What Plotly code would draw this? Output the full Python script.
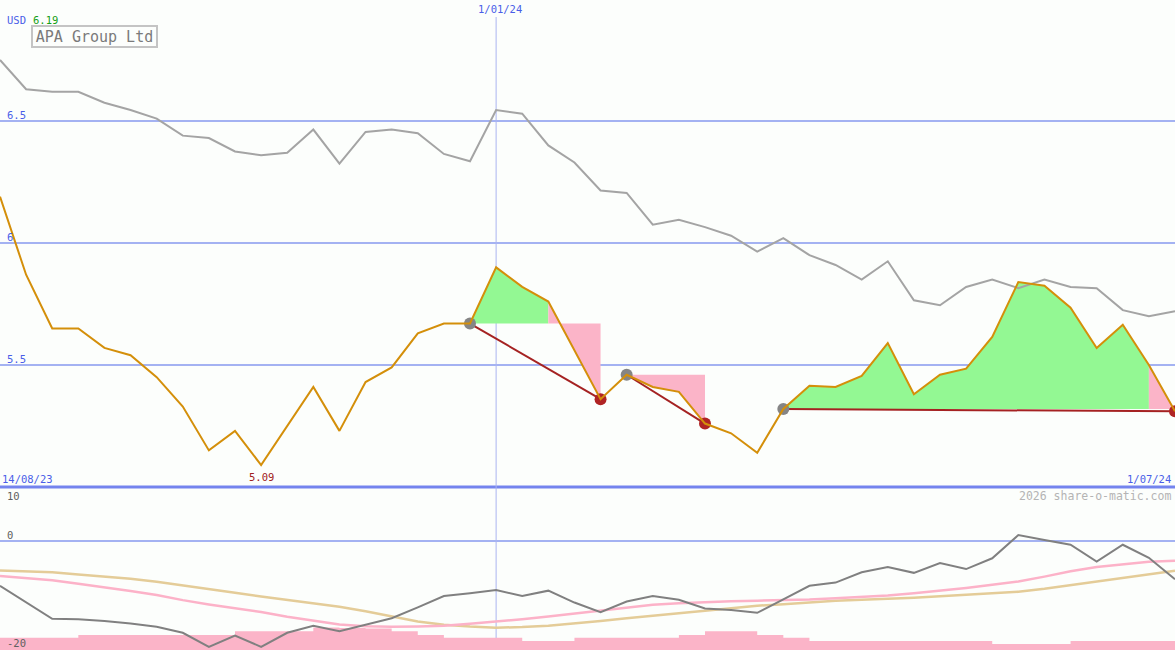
import plotly.graph_objects as go
from datetime import date

W, H = 1175, 650
MAIN_H = 487  # pixel height of the price panel

# ---------------- data ----------------
dates = ["2023-08-14", "2023-08-21", "2023-08-28", "2023-09-04", "2023-09-11", "2023-09-18",
         "2023-09-25", "2023-10-02", "2023-10-09", "2023-10-16", "2023-10-23", "2023-10-30",
         "2023-11-06", "2023-11-13", "2023-11-20", "2023-11-27", "2023-12-04", "2023-12-11",
         "2023-12-18", "2024-01-01", "2024-01-08", "2024-01-15", "2024-01-22", "2024-01-29",
         "2024-02-05", "2024-02-12", "2024-02-19", "2024-02-26", "2024-03-04", "2024-03-11",
         "2024-03-18", "2024-03-25", "2024-04-01", "2024-04-08", "2024-04-15", "2024-04-22",
         "2024-04-29", "2024-05-06", "2024-05-13", "2024-05-20", "2024-05-27", "2024-06-03",
         "2024-06-10", "2024-06-17", "2024-06-24", "2024-07-01"]

price = [6.19, 5.87, 5.65, 5.65, 5.57, 5.54, 5.45, 5.33, 5.15, 5.23,
         5.09, 5.25, 5.41, 5.23, 5.43, 5.49, 5.63, 5.67, 5.67, 5.90,
         5.82, 5.76, 5.56, 5.36, 5.46, 5.41, 5.39, 5.26, 5.22, 5.14,
         5.32, 5.415, 5.41, 5.455, 5.59, 5.38, 5.46, 5.485, 5.615, 5.84,
         5.825, 5.735, 5.57, 5.665, 5.50, 5.31]

compare = [6.75, 6.63, 6.62, 6.62, 6.575, 6.545, 6.51, 6.44, 6.43, 6.375,
           6.36, 6.37, 6.465, 6.325, 6.455, 6.465, 6.45, 6.365, 6.335, 6.545,
           6.53, 6.40, 6.33, 6.215, 6.205, 6.075, 6.095, 6.065, 6.03, 5.965,
           6.02, 5.95, 5.91, 5.85, 5.925, 5.765, 5.745, 5.82, 5.85, 5.815,
           5.85, 5.82, 5.815, 5.725, 5.70, 5.72]

osc = [-8.3, -11.3, -14.4, -14.5, -14.8, -15.3, -15.9, -17.0, -19.6, -17.5,
       -19.6, -17.0, -15.7, -16.7, -15.5, -14.3, -12.3, -10.2, -9.7, -9.1,
       -10.2, -9.2, -11.4, -13.2, -11.2, -10.2, -10.9, -12.5, -12.8, -13.3,
       -10.8, -8.3, -7.7, -5.8, -4.8, -5.9, -4.1, -5.2, -3.2, 1.1,
       0.2, -0.7, -3.8, -0.7, -3.1, -7.1]

osc_fast = [-6.5, -6.85, -7.25, -7.9, -8.55, -9.25, -10.0, -10.95, -11.75, -12.4,
            -13.15, -14.05, -14.8, -15.45, -15.8, -15.9, -15.85, -15.7, -15.35, -14.95,
            -14.5, -14.0, -13.45, -12.9, -12.35, -11.8, -11.55, -11.3, -11.15, -11.05,
            -10.95, -10.85, -10.6, -10.4, -10.1, -9.7, -9.25, -8.7, -8.1, -7.5,
            -6.6, -5.6, -4.8, -4.3, -3.85, -3.65]

osc_slow = [-5.45, -5.6, -5.8, -6.2, -6.55, -7.0, -7.55, -8.2, -8.95, -9.6,
            -10.3, -10.95, -11.55, -12.2, -13.0, -14.0, -14.9, -15.5, -15.85, -16.05,
            -15.95, -15.7, -15.3, -14.8, -14.3, -13.85, -13.35, -12.85, -12.4, -12.0,
            -11.7, -11.4, -11.05, -10.9, -10.75, -10.5, -10.25, -10.0, -9.7, -9.4,
            -8.85, -8.2, -7.55, -6.9, -6.15, -5.5]

hist = [-17.9, -17.9, -17.9, -17.4, -17.4, -17.4, -17.4, -17.4, -17.4, -16.7,
        -16.7, -16.7, -16.0, -16.1, -16.2, -16.7, -17.4, -17.9, -17.9, -17.9,
        -18.5, -18.5, -17.9, -17.9, -17.9, -17.9, -17.4, -16.7, -16.7, -17.4,
        -17.9, -18.5, -18.5, -18.5, -18.5, -18.5, -18.5, -18.5, -19.1, -19.1,
        -19.1, -18.5, -18.5, -18.5, -18.5, -18.5]

# trades: (entry index, index where shading turns pink, exit index)
trades = [(18, 21, 23), (24, 24, 27), (30, 44, 45)]

grid_levels = [5.5, 6.0, 6.5]
grid_labels = ["5.5", "6", "6.5"]
osc_labels = [(10, "10"), (0, "0"), (-20, "-20")]
title = "APA Group Ltd"
currency = "USD"

# ---------------- figure ----------------
idx = list(range(len(price)))
MAIN_LO = 5.0
MAIN_HI = 5.0 + MAIN_H / 244.0
OSC_LO, OSC_HI = -20.19, 10.0
split = 1 - MAIN_H / H

GREEN = "#93f893"
PINK = "#fbb4c8"
ORANGE = "#d48f0a"
FONT = "DejaVu Sans Mono"


def fmt(d):
    dt = date.fromisoformat(d)
    return f"{dt.day}/{dt.month:02d}/{dt.year % 100:02d}"


fig = go.Figure()

# trade shading
for a, s, b in trades:
    lvl = price[a]
    if s > a:
        xs = idx[a:s + 1] + [s, a]
        ys = price[a:s + 1] + [lvl, lvl]
        fig.add_trace(go.Scatter(x=xs, y=ys, fill="toself", fillcolor=GREEN, mode="none",
                                 hoverinfo="skip", showlegend=False))
    xs = idx[s:b + 1] + [b, s]
    ys = price[s:b + 1] + [lvl, lvl]
    fig.add_trace(go.Scatter(x=xs, y=ys, fill="toself", fillcolor=PINK, mode="none",
                             hoverinfo="skip", showlegend=False))

# comparison line
fig.add_trace(go.Scatter(x=idx, y=compare, mode="lines", line=dict(color="#a4a4a4", width=2),
                         hoverinfo="skip", showlegend=False))

# trend lines entry -> exit
for a, s, b in trades:
    fig.add_trace(go.Scatter(x=[a, b], y=[price[a], price[b]], mode="lines",
                             line=dict(color="#a52222", width=2), hoverinfo="skip", showlegend=False))

# entry / exit markers
fig.add_trace(go.Scatter(x=[t[0] for t in trades], y=[price[t[0]] for t in trades], mode="markers",
                         marker=dict(color="#858585", size=12, line=dict(width=0)),
                         hoverinfo="skip", showlegend=False))
fig.add_trace(go.Scatter(x=[t[2] for t in trades], y=[price[t[2]] for t in trades], mode="markers",
                         marker=dict(color="#b02424", size=12, line=dict(width=0)),
                         hoverinfo="skip", showlegend=False))

# price line
fig.add_trace(go.Scatter(x=idx, y=price, mode="lines", line=dict(color=ORANGE, width=2),
                         hoverinfo="skip", showlegend=False))

# lower panel: stepped histogram filled down to the panel bottom
fig.add_trace(go.Scatter(x=idx, y=[OSC_LO] * len(idx), mode="lines", line=dict(width=0),
                         yaxis="y2", hoverinfo="skip", showlegend=False))
fig.add_trace(go.Scatter(x=idx, y=hist, mode="lines", line=dict(width=0, shape="hv"),
                         fill="tonexty", fillcolor=PINK, yaxis="y2",
                         hoverinfo="skip", showlegend=False))
fig.add_trace(go.Scatter(x=idx, y=osc_slow, mode="lines", line=dict(color="#e4cc98", width=2.5),
                         yaxis="y2", hoverinfo="skip", showlegend=False))
fig.add_trace(go.Scatter(x=idx, y=osc_fast, mode="lines", line=dict(color="#fcb2c8", width=2.5),
                         yaxis="y2", hoverinfo="skip", showlegend=False))
fig.add_trace(go.Scatter(x=idx, y=osc, mode="lines", line=dict(color="#808080", width=2),
                         yaxis="y2", hoverinfo="skip", showlegend=False))

shapes = []
for g in grid_levels:
    shapes.append(dict(type="line", xref="paper", yref="y", x0=0, x1=1, y0=g, y1=g,
                       line=dict(color="#a4b2f2", width=2), layer="below"))
shapes.append(dict(type="line", xref="paper", yref="y2", x0=0, x1=1, y0=0, y1=0,
                   line=dict(color="#a4b2f2", width=2), layer="below"))
shapes.append(dict(type="line", xref="paper", yref="paper", x0=0, x1=1, y0=split, y1=split,
                   line=dict(color="#7484ee", width=3), layer="below"))
jan = dates.index("2024-01-01")
shapes.append(dict(type="line", xref="x", yref="paper", x0=jan, x1=jan, y0=0, y1=1 - 17 / H,
                   line=dict(color="#aab4f0", width=1), layer="below"))


def ann(text, px, py, color, size=10.5, xanchor="left", **kw):
    return dict(text=text, x=px / W, y=1 - py / H, xref="paper", yref="paper",
                xanchor=xanchor, yanchor="middle", showarrow=False,
                font=dict(family=FONT, size=size, color=color), **kw)


BLUE = "#4a5ee8"
annotations = [
    ann(currency, 5, 20, BLUE),
    ann(f"{price[0]:.2f}", 31, 20, "#15a015"),
    ann(fmt(dates[jan]), 500, 9, BLUE, xanchor="center"),
    ann(fmt(dates[0]), 0, 479, BLUE),
    ann(fmt(dates[-1]), 1173, 479, BLUE, xanchor="right"),
    ann("2026 share-o-matic.com", 1173, 496, "#b4b4b4", size=11.5, xanchor="right"),
]
for g, lab in zip(grid_levels, grid_labels):
    py = MAIN_H - (g - MAIN_LO) * 244.0
    annotations.append(ann(lab, 5, py - 6, BLUE))
imin = price.index(min(price))
annotations.append(dict(text=f"{min(price):.2f}", x=imin, y=MAIN_LO, xref="x", yref="y",
                        xanchor="center", yanchor="bottom", yshift=2, showarrow=False,
                        font=dict(family=FONT, size=10.5, color="#a02020")))
for v, lab in osc_labels:
    py = MAIN_H + (OSC_HI - v) * (H - MAIN_H) / (OSC_HI - OSC_LO)
    annotations.append(ann(lab, 5, py - 6 if v < 10 else py + 9, "#606060"))
annotations.append(dict(text=title, x=31 / W, y=1 - 25 / H, xref="paper", yref="paper",
                        xanchor="left", yanchor="top", showarrow=False, width=121, height=17,
                        bordercolor="#c4c4c4", borderwidth=2, borderpad=1, bgcolor="#fcfefc",
                        font=dict(family=FONT, size=15, color="#7a7a7a")))

fig.update_layout(
    width=W, height=H, margin=dict(l=0, r=0, t=0, b=0),
    paper_bgcolor="#fcfefc", plot_bgcolor="#fcfefc",
    xaxis=dict(range=[0, len(price) - 1], visible=False, showgrid=False, zeroline=False),
    yaxis=dict(domain=[split, 1], range=[MAIN_LO, MAIN_HI], visible=False, showgrid=False,
               zeroline=False),
    yaxis2=dict(domain=[0, split], range=[OSC_LO, OSC_HI], visible=False, showgrid=False,
                zeroline=False),
    shapes=shapes, annotations=annotations, showlegend=False,
)

fig.write_html("out.html", config={"displayModeBar": False},
               post_script="document.body.style.margin='0';document.body.style.overflow='hidden';")
